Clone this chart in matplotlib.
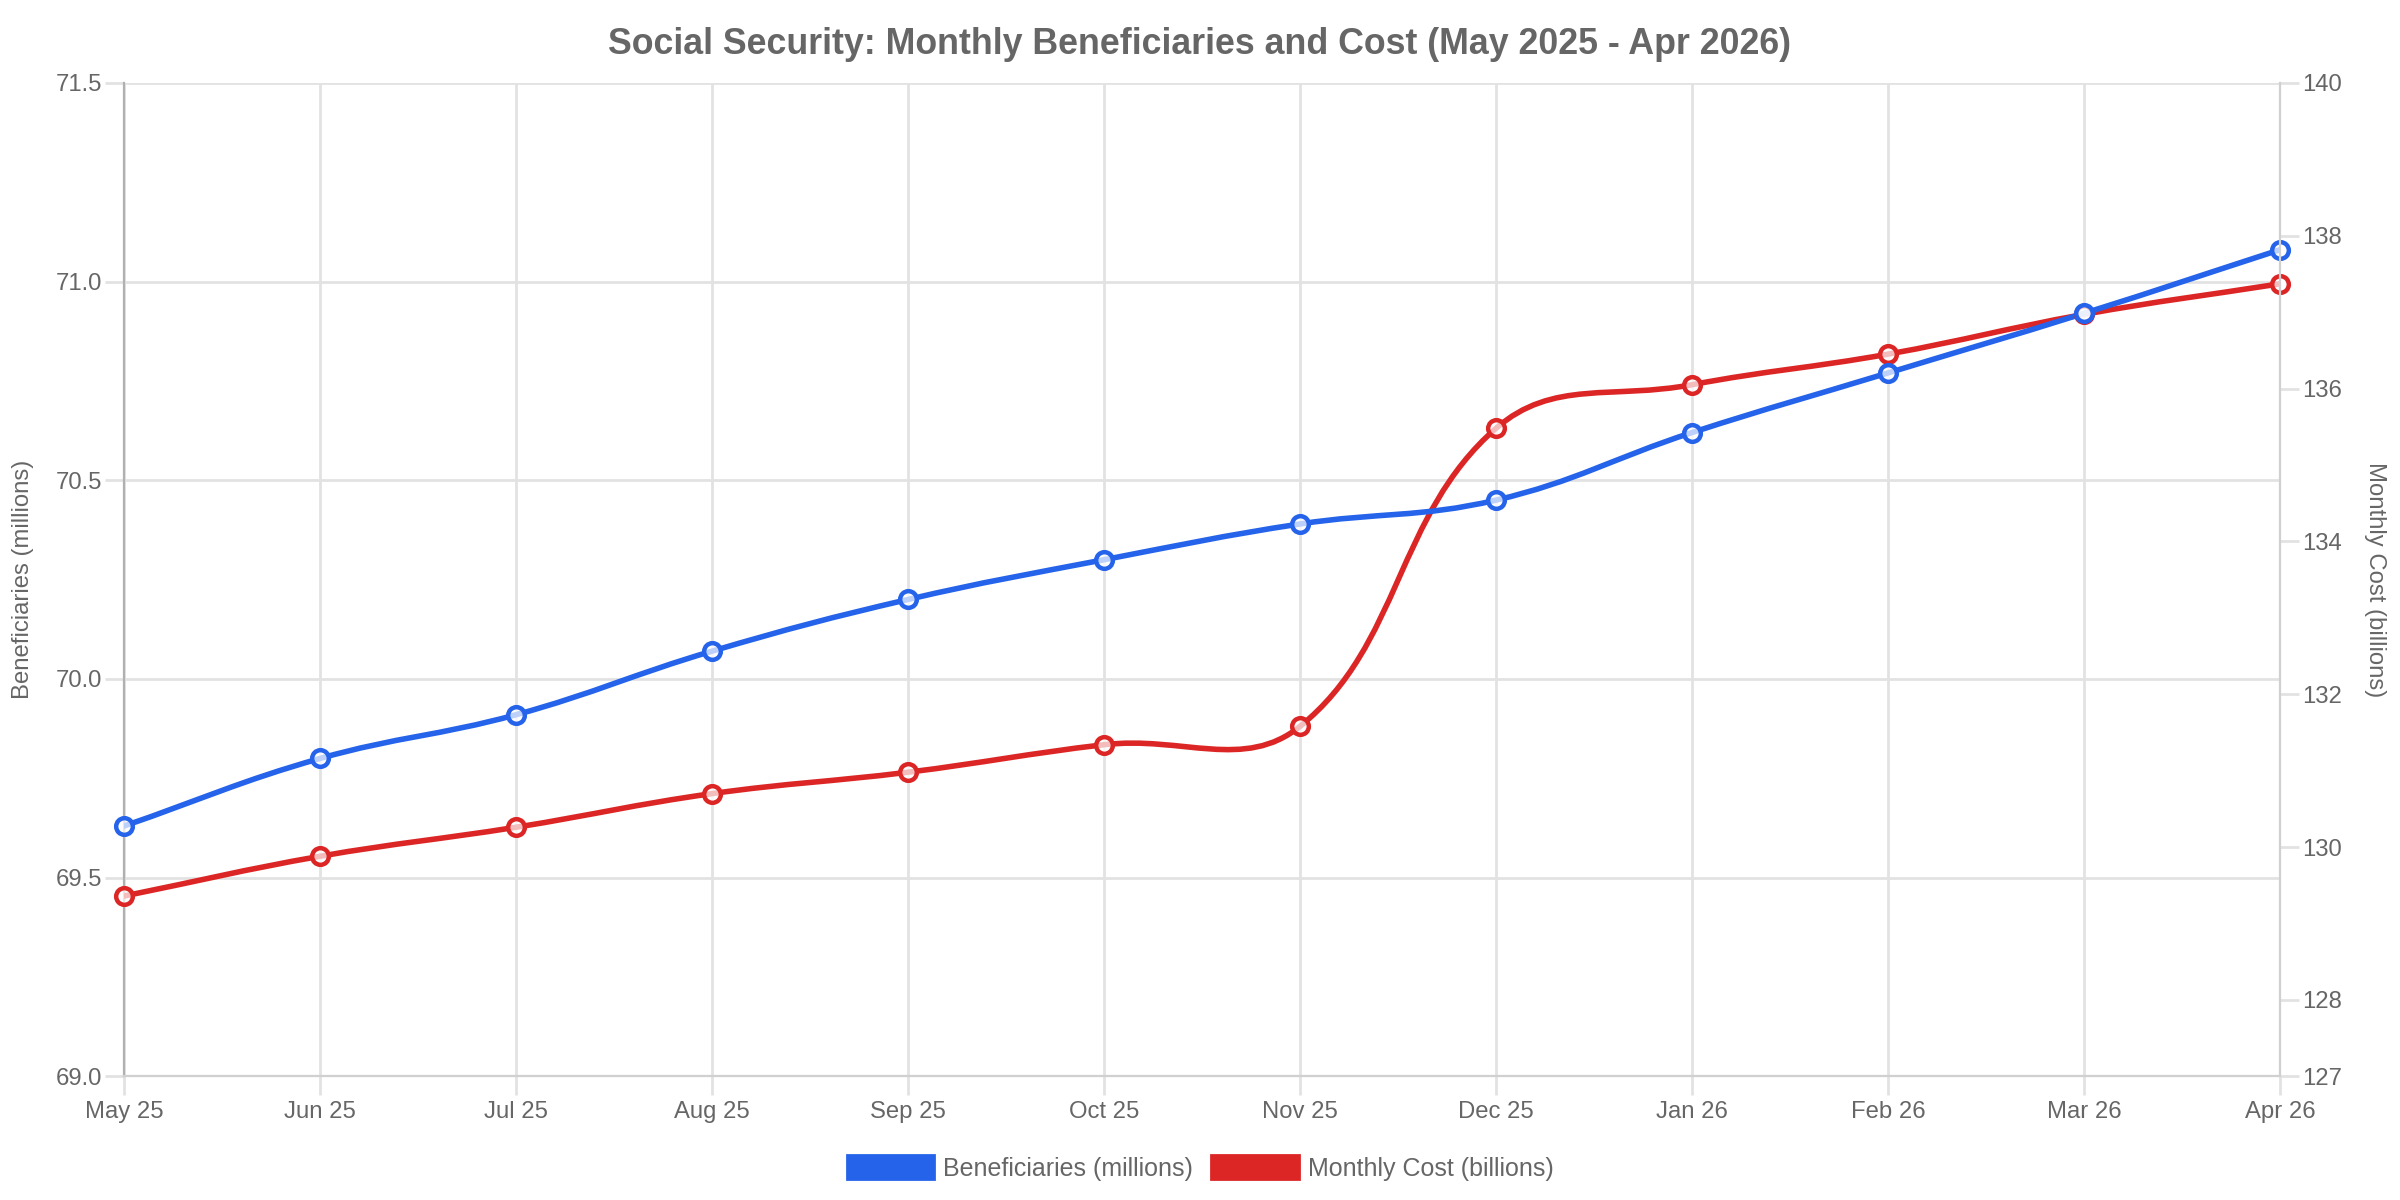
import numpy as np
import matplotlib.pyplot as plt
from matplotlib.path import Path
from matplotlib.patches import PathPatch, Patch

months = ['May 25', 'Jun 25', 'Jul 25', 'Aug 25', 'Sep 25', 'Oct 25',
          'Nov 25', 'Dec 25', 'Jan 26', 'Feb 26', 'Mar 26', 'Apr 26']
beneficiaries = [69.63, 69.80, 69.91, 70.07, 70.20, 70.30,
                 70.39, 70.45, 70.62, 70.77, 70.92, 71.08]
monthly_cost = [129.36, 129.88, 130.26, 130.70, 130.98, 131.34,
                131.58, 135.48, 136.05, 136.45, 136.97, 137.37]
left_ticks = [69.0, 69.5, 70.0, 70.5, 71.0, 71.5]
right_ticks = [127, 128, 130, 132, 134, 136, 138, 140]

BLUE = '#2563eb'
RED = '#dc2626'
GRAY = '#666666'
GRID = '#e2e2e2'

plt.rcParams['font.family'] = ['Liberation Sans', 'DejaVu Sans']

fig = plt.figure(figsize=(12, 6), dpi=200)
ax = fig.add_axes([0.0517, 0.103, 0.8983, 0.828])
ax2 = ax.twinx()

x = np.arange(len(months))
ax.set_xlim(0, len(months) - 1)
ax.set_ylim(69.0, 71.5)
ax2.set_ylim(127, 140)


def spline_path(tr, xs, ys, tension=0.4):
    # chart.js style cubic spline, control points worked out in pixel space
    pts = tr.transform(np.column_stack([xs, ys]))
    n = len(pts)
    cps = []
    for i in range(n):
        prev = pts[max(i - 1, 0)]
        cur = pts[i]
        nxt = pts[min(i + 1, n - 1)]
        d01 = np.hypot(*(cur - prev))
        d12 = np.hypot(*(nxt - cur))
        tot = d01 + d12
        s01 = d01 / tot if tot else 0
        s12 = d12 / tot if tot else 0
        cps.append((cur - tension * s01 * (nxt - prev), cur + tension * s12 * (nxt - prev)))
    verts = [pts[0]]
    codes = [Path.MOVETO]
    for i in range(1, n):
        verts += [cps[i - 1][1], cps[i][0], pts[i]]
        codes += [Path.CURVE4] * 3
    verts = tr.inverted().transform(np.array(verts))
    return Path(verts, codes)


# red first so blue ends up on top (first dataset on top, like the original)
for vals, col, tr in [(monthly_cost, RED, ax2.transData), (beneficiaries, BLUE, ax.transData)]:
    ax.add_patch(PathPatch(spline_path(tr, x, vals), fill=False, edgecolor=col,
                           lw=2.0, transform=tr, zorder=3, capstyle='round', joinstyle='round'))
    ax.plot(x, vals, 'o', ms=6.0, mfc=(1, 1, 1, 0.7), mec=col, mew=1.6,
            transform=tr, zorder=4, clip_on=False)

ax.set_xticks(x)
ax.set_xticklabels(months)
ax.set_yticks(left_ticks)
ax.set_yticklabels([f'{v:.1f}' for v in left_ticks])
ax2.set_yticks(right_ticks)

ax.grid(True, color=GRID, lw=1.0, zorder=0)
ax.set_axisbelow(True)

for a in (ax, ax2):
    for s in a.spines.values():
        s.set_visible(False)
ax.spines['left'].set_visible(True)
ax.spines['left'].set_color('#b0b0b0')
ax.spines['bottom'].set_visible(True)
ax.spines['bottom'].set_color('#d0d0d0')
ax2.spines['right'].set_visible(True)
ax2.spines['right'].set_color('#d0d0d0')

ax.tick_params(axis='x', colors=GRID, labelcolor=GRAY, labelsize=8.6, length=7, width=1, pad=2)
ax.tick_params(axis='y', colors=GRID, labelcolor=GRAY, labelsize=8.6, length=7, width=1, pad=1)
ax2.tick_params(axis='y', colors=GRID, labelcolor=GRAY, labelsize=8.6, length=7, width=1, pad=1)

ax.set_ylabel('Beneficiaries (millions)', color=GRAY, fontsize=8.6, va='center')
ax.yaxis.set_label_coords(-0.047, 0.5)
ax2.set_ylabel('Monthly Cost (billions)', color=GRAY, fontsize=8.6, rotation=270, va='center')
ax2.yaxis.set_label_coords(1.044, 0.5)

fig.suptitle('Social Security: Monthly Beneficiaries and Cost (May 2025 - Apr 2026)',
             x=0.5, y=0.963, va='center', fontsize=12.9, fontweight='bold', color=GRAY)

handles = [Patch(facecolor=BLUE, edgecolor=BLUE), Patch(facecolor=RED, edgecolor=RED)]
fig.legend(handles, ['Beneficiaries (millions)', 'Monthly Cost (billions)'],
           loc='center', bbox_to_anchor=(0.5, 0.027), ncol=2, frameon=False,
           fontsize=9.0, labelcolor=GRAY, handlelength=3.5, handleheight=1.15,
           handletextpad=0.35, columnspacing=0.75)

fig.savefig('out.png', dpi=200, facecolor='white')
